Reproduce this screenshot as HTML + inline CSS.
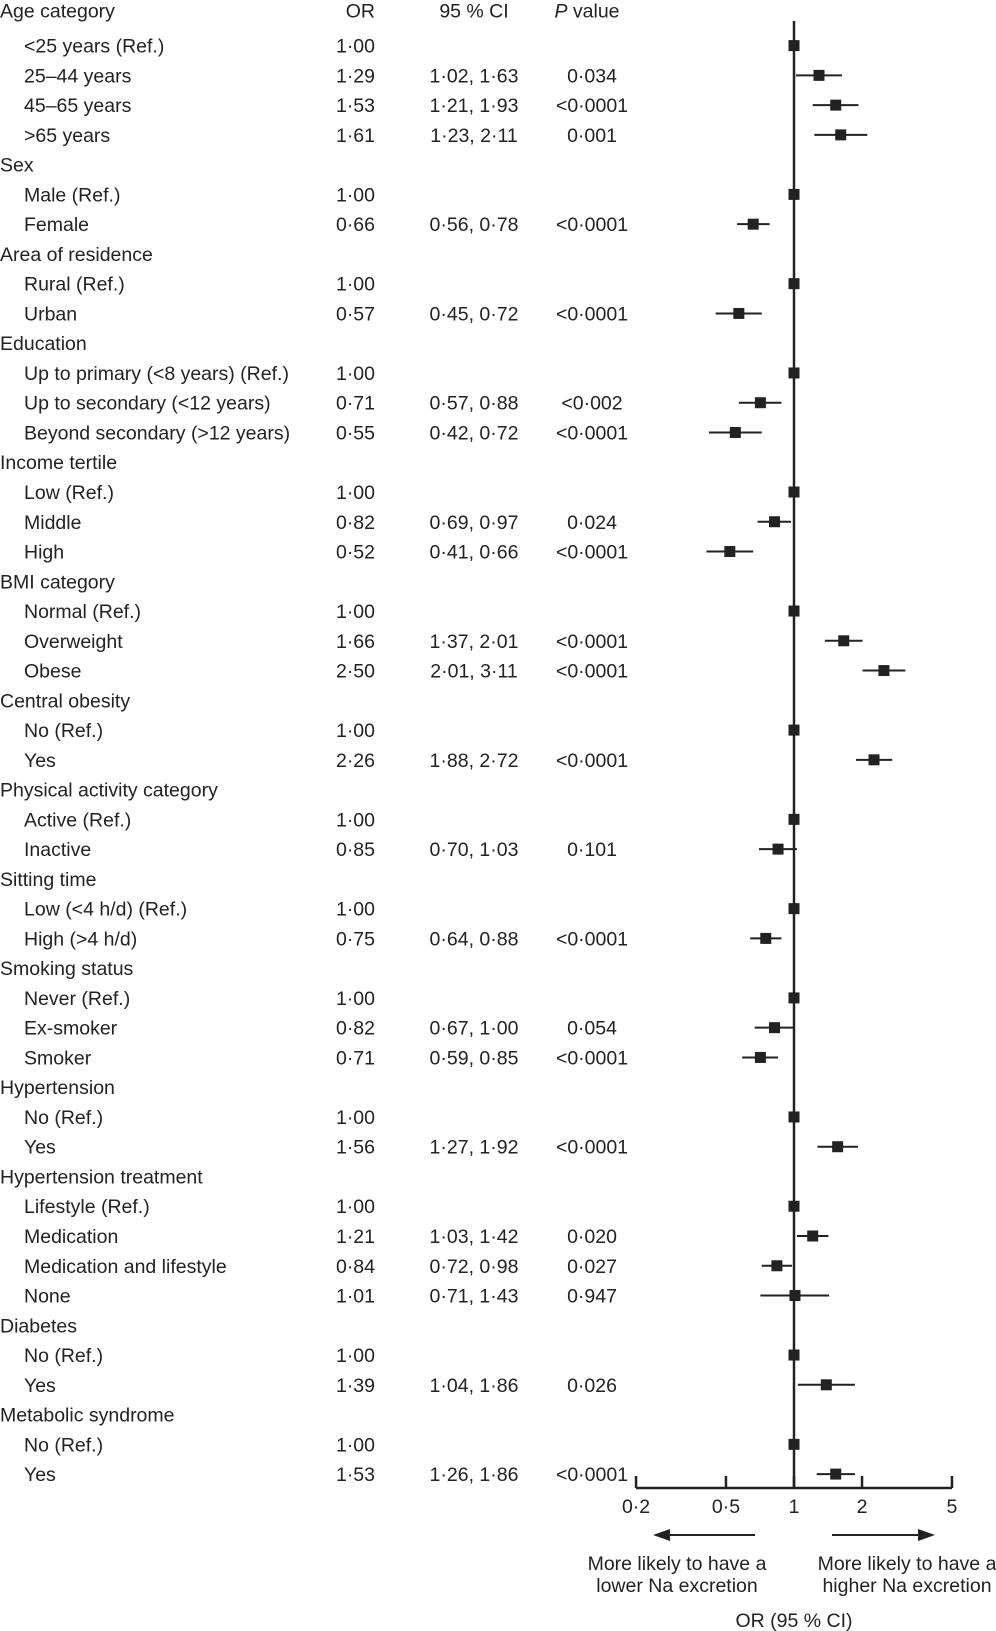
<!DOCTYPE html>
<html><head><meta charset="utf-8"><style>
body{margin:0;background:#fff;}
svg{display:block;font-family:"Liberation Sans",sans-serif;}
text{fill:#222;font-size:19.5px;}
</style></head><body>
<svg id="c" width="996" height="1631" viewBox="0 0 996 1631"></svg>
<script>
const labels=["Age category","<25 years (Ref.)","25–44 years","45–65 years",">65 years","Sex","Male (Ref.)","Female","Area of residence","Rural (Ref.)","Urban","Education","Up to primary (<8 years) (Ref.)","Up to secondary (<12 years)","Beyond secondary (>12 years)","Income tertile","Low (Ref.)","Middle","High","BMI category","Normal (Ref.)","Overweight","Obese","Central obesity","No (Ref.)","Yes","Physical activity category","Active (Ref.)","Inactive","Sitting time","Low (<4 h/d) (Ref.)","High (>4 h/d)","Smoking status","Never (Ref.)","Ex-smoker","Smoker","Hypertension","No (Ref.)","Yes","Hypertension treatment","Lifestyle (Ref.)","Medication","Medication and lifestyle","None","Diabetes","No (Ref.)","Yes","Metabolic syndrome","No (Ref.)","Yes"];
const headers=[0,5,8,11,15,19,23,26,29,32,36,39,44,47];
const orVals=[null,1.00,1.29,1.53,1.61,null,1.00,0.66,null,1.00,0.57,null,1.00,0.71,0.55,null,1.00,0.82,0.52,null,1.00,1.66,2.50,null,1.00,2.26,null,1.00,0.85,null,1.00,0.75,null,1.00,0.82,0.71,null,1.00,1.56,null,1.00,1.21,0.84,1.01,null,1.00,1.39,null,1.00,1.53];
const loVals=[null,null,1.02,1.21,1.23,null,null,0.56,null,null,0.45,null,null,0.57,0.42,null,null,0.69,0.41,null,null,1.37,2.01,null,null,1.88,null,null,0.70,null,null,0.64,null,null,0.67,0.59,null,null,1.27,null,null,1.03,0.72,0.71,null,null,1.04,null,null,1.26];
const hiVals=[null,null,1.63,1.93,2.11,null,null,0.78,null,null,0.72,null,null,0.88,0.72,null,null,0.97,0.66,null,null,2.01,3.11,null,null,2.72,null,null,1.03,null,null,0.88,null,null,1.00,0.85,null,null,1.92,null,null,1.42,0.98,1.43,null,null,1.86,null,null,1.86];
const pVals=[null,"","0·034","<0·0001","0·001",null,"","<0·0001",null,"","<0·0001",null,"","<0·002","<0·0001",null,"","0·024","<0·0001",null,"","<0·0001","<0·0001",null,"","<0·0001",null,"","0·101",null,"","<0·0001",null,"","0·054","<0·0001",null,"","<0·0001",null,"","0·020","0·027","0·947",null,"","0·026",null,"","<0·0001"];
const ticks=[0.2,0.5,1,2,5];
const tickLabels=["0·2","0·5","1","2","5"];

const svg=document.getElementById('c');
const NS="http://www.w3.org/2000/svg";
const x=v=>794+Math.log10(v)*226;
const y=i=>i===0?10.4:45.6+(i-1)*29.76;
const fmt=v=>v.toFixed(2).replace('.','·');
function el(t,a,txt){const e=document.createElementNS(NS,t);for(const k in a)e.setAttribute(k,a[k]);if(txt!=null)e.textContent=txt;svg.appendChild(e);return e;}

let h;
h=el('text',{x:375,y:y(0)+7,'text-anchor':'end'},'OR');

h=el('text',{x:474,y:y(0)+7,'text-anchor':'middle'},'95 % CI');

h=el('text',{x:587,y:y(0)+7,'text-anchor':'middle'});
h.innerHTML='<tspan font-style="italic">P</tspan> value';


h=el('line',{x1:x(1),x2:x(1),y1:21,y2:1488,stroke:'#222','stroke-width':2.5});


labels.forEach((lab,i)=>{
  const isH=headers.includes(i);
  const t=el('text',{x:isH?0:24,y:y(i)+7},lab);
  
  
  if(isH)return;
  const o=el('text',{x:375,y:y(i)+7,'text-anchor':'end'},fmt(orVals[i]));
  
  
  if(loVals[i]!=null){
    const c=el('text',{x:474,y:y(i)+7,'text-anchor':'middle'},fmt(loVals[i])+', '+fmt(hiVals[i]));
    
    
    const l=el('line',{x1:x(loVals[i]),x2:x(hiVals[i]),y1:y(i),y2:y(i),stroke:'#222','stroke-width':2});
    
    
  }
  if(pVals[i]){
    const p=el('text',{x:592,y:y(i)+7,'text-anchor':'middle'},pVals[i]);
    
    
  }
  const m=el('rect',{x:x(orVals[i])-5.5,y:y(i)-5.5,width:11,height:11,fill:'#222'});
  
  
});

h=el('line',{x1:x(0.2),x2:x(5),y1:1488,y2:1488,stroke:'#222','stroke-width':2.5});

ticks.forEach((t,k)=>{
  const tl=el('line',{x1:x(t),x2:x(t),y1:1476,y2:1488,stroke:'#222','stroke-width':2.5});
  
  
  const tt=el('text',{x:x(t),y:1513,'text-anchor':'middle'},tickLabels[k]);
  
  
});
h=el('line',{x1:668,x2:755,y1:1535,y2:1535,stroke:'#222','stroke-width':2});

h=el('polygon',{points:'653,1535 670,1529 670,1541',fill:'#222'});

h=el('line',{x1:832,x2:920,y1:1535,y2:1535,stroke:'#222','stroke-width':2});

h=el('polygon',{points:'935,1535 918,1529 918,1541',fill:'#222'});

h=el('text',{x:677,y:1570,'text-anchor':'middle'},'More likely to have a');

h=el('text',{x:677,y:1592,'text-anchor':'middle'},'lower Na excretion');

h=el('text',{x:907,y:1570,'text-anchor':'middle'},'More likely to have a');

h=el('text',{x:907,y:1592,'text-anchor':'middle'},'higher Na excretion');

h=el('text',{x:794,y:1627,'text-anchor':'middle'},'OR (95 % CI)');

</script>
</body></html>
